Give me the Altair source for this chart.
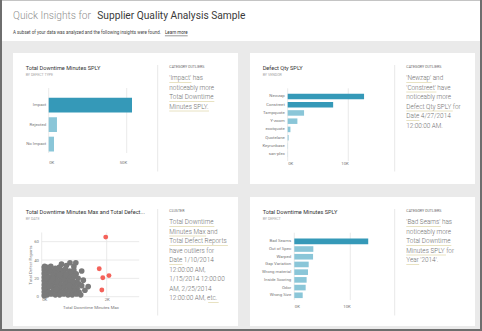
import altair as alt
import pandas as pd

W, H = 482, 331
FONT = "Roboto"

# ---------------- data ----------------
defect_type_cats = ["Impact", "Rejected", "No Impact"]
defect_type_vals = [53400, 5300, 3400]
defect_type_hi = ["Impact"]

vendor_cats = ["Newzap", "Constreet", "Tampquote", "Y-zoom", "ecotquote", "Quotelane", "Keyrunbase", "san-plex"]
vendor_vals = [12600, 7500, 2700, 1600, 450, 150, 30, 20]
vendor_hi = ["Newzap", "Constreet"]

defect_cats = ["Bad Seams", "Out of Spec", "Warped", "Gap Variation", "Wrong material",
               "Inside Scoring", "Odor", "Wrong Size"]
defect_vals = [13200, 3400, 3350, 2570, 2450, 2200, 2030, 1500]
defect_hi = ["Bad Seams"]

scatter_x = [90, 170, 280, 420, 540, 610, 760, 870, 1050, 990,
             110, 210, 340, 470, 600, 730, 860, 990,
             90, 160, 270, 400, 530, 660, 790, 920, 1060, 1230,
             110, 210, 340, 470, 600, 730, 860, 990, 1120,
             90, 170, 290, 420, 550, 680, 810, 940, 1080, 1280,
             110, 220, 350, 480, 610, 740, 870, 1000, 1140,
             90, 170, 300, 430, 560, 690, 820, 950, 1090, 1230, 1430,
             110, 230, 360, 490, 620, 750, 880, 1010, 1150, 1330,
             90, 170, 290, 420, 550, 680, 810, 940, 1070, 1200,
             80, 80, 80, 80, 80, 80, 80, 80, 80,
             150, 350, 550, 750, 950, 250, 450, 650, 850]
scatter_y = [33, 32, 33, 31, 32, 35.5, 34, 37, 37, 33,
             29, 30, 28, 30, 29, 30, 28, 29,
             26, 25, 27, 26, 25, 26, 24, 26, 25, 28,
             22, 21, 23, 22, 21, 22, 21, 22, 20,
             18, 17, 18, 19, 17, 18, 17, 18, 16, 18,
             14, 13, 15, 14, 13, 14, 15, 13, 14,
             10, 9, 11, 10, 9, 10, 11, 10, 9, 12, 11,
             6, 5, 7, 6, 5, 6, 7, 6, 5, 7,
             2, 2, 3, 2, 2, 3, 2, 2, 3, 2,
             1, 5, 9, 13, 17, 21, 25, 29, 32,
             20, 20, 24, 24, 16, 12, 8, 4, 12]
outlier_x = [1970, 1770, 2070, 1880, 1850]
outlier_y = [65, 30.5, 23, 20.7, 7.3]

header_gray = "Quick Insights for"
header_dark = "Supplier Quality Analysis Sample"
header_sub = "A subset of your data was analyzed and the following insights were found."
header_link = "Learn more"

card_titles = ["Total Downtime Minutes SPLY", "Defect Qty SPLY",
               "Total Downtime Minutes Max and Total Defect...", "Total Downtime Minutes SPLY"]
card_subtitles = ["BY DEFECT TYPE", "BY VENDOR", "BY DATE", "BY DEFECT"]
card_kinds = ["CATEGORY OUTLIERS", "CATEGORY OUTLIERS", "CLUSTER", "CATEGORY OUTLIERS"]
insights = [
    ["'Impact' has", "noticeably more", "Total Downtime", "Minutes SPLY."],
    ["'Newzap' and", "'Constreet' have", "noticeably more", "Defect Qty SPLY for",
     "Date 4/27/2014", "12:00:00 AM."],
    ["Total Downtime", "Minutes Max and", "Total Defect Reports", "have outliers for",
     "Date 1/10/2014", "12:00:00 AM,", "1/15/2014 12:00:00", "AM, 2/25/2014", "12:00:00 AM, etc."],
    ["'Bad Seams' has", "noticeably more", "Total Downtime", "Minutes SPLY for", "Year '2014'."],
]
# (line, text before, underlined text)
links = [
    [(0, "", "'Impact'"), (2, "", "Total Downtime"), (3, "", "Minutes SPLY")],
    [(0, "", "'Newzap'"), (1, "", "'Constreet'"), (3, "", "Defect Qty SPLY"), (4, "", "Date")],
    [(0, "", "Total Downtime"), (1, "", "Minutes Max"), (2, "", "Total Defect Reports"),
     (4, "", "Date"), (8, "12:00:00 AM, ", "etc.")],
    [(0, "", "'Bad Seams'"), (2, "", "Total Downtime"), (3, "", "Minutes SPLY"), (4, "", "Year")],
]

# ---------------- layout / style ----------------
BG = "#eaeaea"
DARK = "#3599b8"
LIGHT = "#8ac6d8"
GRID = "#e4e4e4"
LABEL = "#777777"
CARDS = [(13, 53, 238, 184), (250, 53, 475, 184), (13, 197, 238, 326), (250, 197, 475, 326)]
INS_SIZE = 6.4
INS_LH = 9.5

ONE = pd.DataFrame({"k": [0]})

CW = {" ": .248, "'": .18, "a": .544, "b": .561, "c": .523, "d": .564, "e": .53, "f": .347,
      "g": .561, "h": .551, "i": .243, "j": .239, "k": .507, "l": .243, "m": .876, "n": .552,
      "o": .57, "p": .561, "q": .568, "r": .338, "s": .516, "t": .327, "u": .551, "v": .484,
      "w": .751, "x": .496, "y": .473, "z": .496, "A": .653, "B": .622, "C": .652, "D": .656,
      "E": .568, "F": .553, "G": .681, "H": .713, "I": .272, "L": .538, "M": .873, "N": .713,
      "O": .688, "P": .631, "Q": .688, "R": .616, "S": .593, "T": .597, "Y": .6, "/": .411,
      ":": .242, ".": .264, ",": .196}


def tw(s, size):
    return sum(CW.get(c, .561) for c in s) * size


def box(x, y, x2, y2, fill):
    return alt.Chart(ONE).mark_rect(fill=fill).encode(
        x=alt.value(x), x2=alt.value(x2), y=alt.value(y), y2=alt.value(y2))


def rule(x, y, x2, y2, color, width=1.0):
    return alt.Chart(ONE).mark_rule(color=color, strokeWidth=width).encode(
        x=alt.value(x), x2=alt.value(x2), y=alt.value(y), y2=alt.value(y2))


def txt(x, y, text, size, color, weight="normal", baseline="middle", lh=None, align="left"):
    kw = dict(text=text, fontSize=size, color=color, font=FONT, fontWeight=weight,
              baseline=baseline, align=align)
    if lh:
        kw["lineHeight"] = lh
    return alt.Chart(ONE).mark_text(**kw).encode(x=alt.value(x), y=alt.value(y))


AX = dict(domain=False, ticks=False, tickSize=0, grid=False, labelFontSize=4.3,
          labelColor=LABEL, labelFont=FONT, zindex=2)


def bar_card(cats, vals, hi, xdom, xrange, yrange, pinner, ticks, axis_y, grid_y, lab_pad):
    df = pd.DataFrame({"cat": cats, "val": vals})
    xs = alt.Scale(domain=xdom, range=xrange, nice=False, zero=True)
    ys = alt.Scale(domain=cats, range=yrange, paddingInner=pinner, paddingOuter=0)
    xax = alt.Axis(orient="bottom", offset=axis_y - H, values=ticks,
                   labelExpr="datum.value / 1000 + 'K'", labelPadding=1, title=None, **AX)
    yax = alt.Axis(orient="left", offset=-xrange[0], labelPadding=lab_pad, title=None, **AX)
    grid = alt.Chart(pd.DataFrame({"t": ticks})).mark_rule(color=GRID, strokeWidth=0.8).encode(
        x=alt.X("t:Q", scale=xs, axis=xax),
        y=alt.value(grid_y[0]), y2=alt.value(grid_y[1]))
    bars = alt.Chart(df).mark_bar().encode(
        x=alt.X("val:Q", scale=xs, axis=xax),
        y=alt.Y("cat:N", scale=ys, sort=cats, axis=yax),
        color=alt.condition(alt.FieldOneOfPredicate(field="cat", oneOf=hi),
                            alt.value(DARK), alt.value(LIGHT)))
    return alt.layer(grid, bars)


layers = []
# header + cards
layers.append(box(0, 0, W, 41, "white"))
for c in CARDS:
    layers.append(box(c[0], c[1], c[2], c[3], "white"))

# header text
layers.append(txt(13, 16, header_gray, 10.2, "#8f8f8f", weight=300))
layers.append(txt(97.3, 16, header_dark, 10.2, "#3a3a3a"))
layers.append(txt(13, 33.3, header_sub, 4.5, "#444444"))
lx = 13 + tw(header_sub, 4.5) + 4
layers.append(txt(lx, 33.3, header_link, 4.5, "#333333"))
layers.append(rule(lx, 35.8, lx + tw(header_link, 4.5), 35.8, "#333333", 0.5))

# card texts
for i, c in enumerate(CARDS):
    x0, y0 = c[0], c[1]
    layers.append(txt(x0 + 12.7, y0 + 15, card_titles[i], 5.6, "#333333"))
    layers.append(txt(x0 + 12.7, y0 + 21.8, card_subtitles[i], 3.6, "#a6a6a6"))
    sep = x0 + 144.7
    layers.append(rule(sep, y0 + 12, sep, y0 + 118.5, "#e8e8e8", 1))
    tx = x0 + 156.3
    layers.append(txt(tx, y0 + 14.4, card_kinds[i], 3.6, "#666666"))
    first = y0 + 25.5
    layers.append(txt(tx, first + 0.3 * INS_SIZE, insights[i], INS_SIZE, "#6f6f6f",
                      weight=300, baseline="alphabetic", lh=INS_LH))
    for (ln, pre, word) in links[i]:
        ux = tx + tw(pre, INS_SIZE)
        uy = first + ln * INS_LH + 4.0
        layers.append(rule(ux, uy, ux + tw(word, INS_SIZE), uy, "#e2dbb2", 0.8))

# bar cards
layers.append(bar_card(defect_type_cats, defect_type_vals, defect_type_hi,
                       [0, 50000], [48.7, 126.7], [97.7, 151.5], 0.24,
                       [0, 50000], 159.5, (88, 153), 3.0))
layers.append(bar_card(vendor_cats, vendor_vals, vendor_hi,
                       [0, 10000], [287.7, 348.3], [93.7, 156.9], 0.33,
                       [0, 10000], 160.5, (88.3, 161), 3.4))
layers.append(bar_card(defect_cats, defect_vals, defect_hi,
                       [0, 10000], [294.3, 350.3], [238.5, 298.1], 0.27,
                       [0, 10000], 303.2, (232.7, 300), 3.6))

# scatter card
sx = alt.Scale(domain=[0, 3000], range=[41.7, 139.2], nice=False, zero=True)
sy = alt.Scale(domain=[0, 70], range=[296.7, 232.5], nice=False, zero=True)
syax = alt.Axis(orient="left", offset=-41.7, values=[0, 20, 40, 60], labelPadding=3.2,
                title="Total Defect Reports", titleFontSize=4.3, titleColor=LABEL,
                titleFont=FONT, titleFontWeight="normal", titlePadding=1, **AX)
sxax = alt.Axis(orient="bottom", offset=296.7 - H, values=[0, 2000],
                labelExpr="datum.value / 1000 + 'K'", labelPadding=0.5,
                title="Total Downtime Minutes Max", titleFontSize=4.3, titleColor=LABEL,
                titleFont=FONT, titleFontWeight="normal", titlePadding=3.5, **AX)
hgrid = alt.Chart(pd.DataFrame({"v": [0, 20, 40, 60]})).mark_rule(color=GRID, strokeWidth=0.8).encode(
    y=alt.Y("v:Q", scale=sy, axis=syax),
    x=alt.value(41.7), x2=alt.value(139.2))
vgrid = alt.Chart(pd.DataFrame({"v": [0, 2000]})).mark_rule(color=GRID, strokeWidth=0.8).encode(
    x=alt.X("v:Q", scale=sx, axis=sxax),
    y=alt.value(232.5), y2=alt.value(296.7))
pts = alt.Chart(pd.DataFrame({"x": scatter_x, "y": scatter_y})).mark_circle(
    size=32, color="#7a7a7a", opacity=1).encode(
    x=alt.X("x:Q", scale=sx, axis=sxax), y=alt.Y("y:Q", scale=sy, axis=syax))
outs = alt.Chart(pd.DataFrame({"x": outlier_x, "y": outlier_y})).mark_circle(
    size=24, color="#f4625a", opacity=1).encode(
    x=alt.X("x:Q", scale=sx, axis=sxax), y=alt.Y("y:Q", scale=sy, axis=syax))
layers.append(alt.layer(hgrid, vgrid, pts, outs))

# window border
layers.append(rule(0, 0.5, W, 0.5, "#c4c4c4", 1))
layers.append(rule(1, 0, 1, H, "#6e6e6e", 2))
layers.append(rule(481, 0, 481, H, "#6e6e6e", 2))
layers.append(rule(0, 330, W, 330, "#6e6e6e", 2))

chart = alt.layer(*layers).resolve_scale(x="independent", y="independent").properties(
    width=W, height=H, autosize=alt.AutoSizeParams(type="none"), padding=0, background=BG
).configure_view(stroke=None)

chart.save("out.html", embed_options={"renderer": "svg", "actions": False})
